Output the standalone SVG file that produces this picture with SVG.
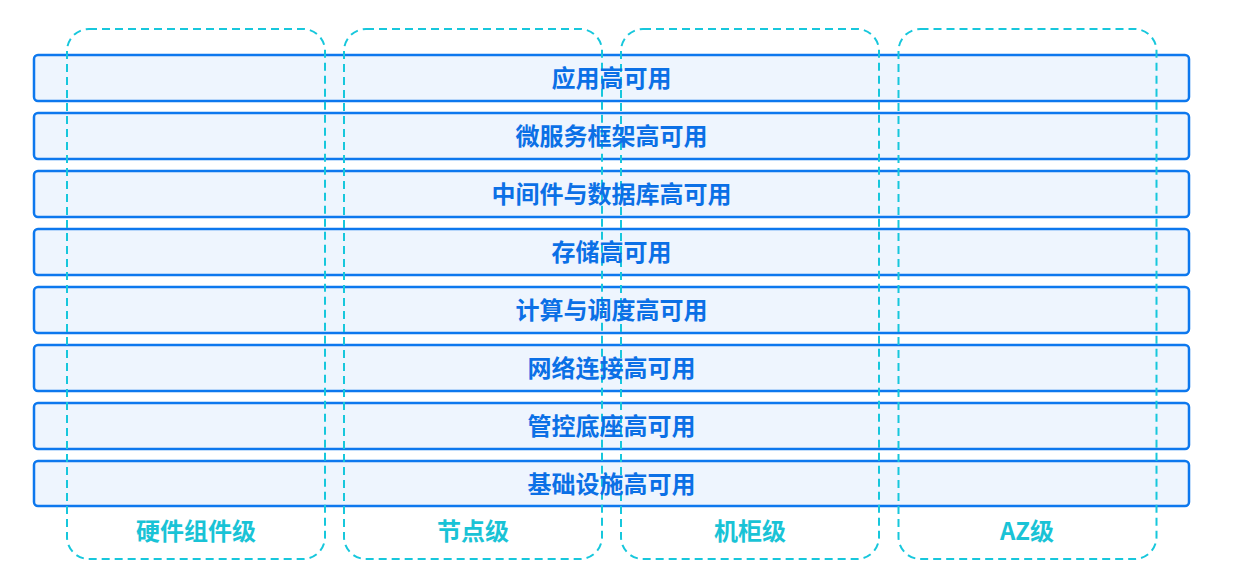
<svg xmlns="http://www.w3.org/2000/svg" width="1238" height="577" viewBox="0 0 1238 577">
<style>
.bar{fill:#eef5fe;stroke:#0d78ee;stroke-width:2.5}
.bt{font-family:"Noto Sans CJK SC","Noto Sans",sans-serif;font-size:24px;font-weight:700;fill:#0b70e6;text-anchor:middle;dominant-baseline:central}
.zone{fill:none;stroke:#17c7dc;stroke-width:2;stroke-dasharray:8 5}
.zt{font-family:"Noto Sans CJK SC","Noto Sans",sans-serif;font-size:24px;font-weight:700;fill:#19c3d6;text-anchor:middle;dominant-baseline:central}
</style>
<rect width="1238" height="577" fill="#ffffff"/>
<g id="bars">
<rect class="bar" x="34" y="55" width="1155" height="46" rx="4"/>
<rect class="bar" x="34" y="113" width="1155" height="46" rx="4"/>
<rect class="bar" x="34" y="171" width="1155" height="46" rx="4"/>
<rect class="bar" x="34" y="229" width="1155" height="46" rx="4"/>
<rect class="bar" x="34" y="287" width="1155" height="46" rx="4"/>
<rect class="bar" x="34" y="345" width="1155" height="46" rx="4"/>
<rect class="bar" x="34" y="403" width="1155" height="46" rx="4"/>
<rect class="bar" x="34" y="461" width="1155" height="45" rx="4"/>
</g>
<g id="zones">
<g id="zone-hw"><rect class="zone" x="67" y="29" width="258" height="530" rx="22"/><text class="zt" x="196" y="529">硬件组件级</text></g>
<g id="zone-node"><rect class="zone" x="344" y="29" width="258" height="530" rx="22"/><text class="zt" x="473" y="529">节点级</text></g>
<g id="zone-rack"><rect class="zone" x="621" y="29" width="258" height="530" rx="22"/><text class="zt" x="750" y="529">机柜级</text></g>
<g id="zone-az"><rect class="zone" x="898.5" y="29" width="258" height="530" rx="22"/><text class="zt" x="1027" y="529">AZ级</text></g>
</g>
<g id="bar-labels">
<text class="bt" x="611.5" y="76.5">应用高可用</text>
<text class="bt" x="611.5" y="134.5">微服务框架高可用</text>
<text class="bt" x="611.5" y="192.5">中间件与数据库高可用</text>
<text class="bt" x="611.5" y="250.5">存储高可用</text>
<text class="bt" x="611.5" y="308.5">计算与调度高可用</text>
<text class="bt" x="611.5" y="366.5">网络连接高可用</text>
<text class="bt" x="611.5" y="424.5">管控底座高可用</text>
<text class="bt" x="611.5" y="482">基础设施高可用</text>
</g>
<g id="connectors"/>
</svg>
